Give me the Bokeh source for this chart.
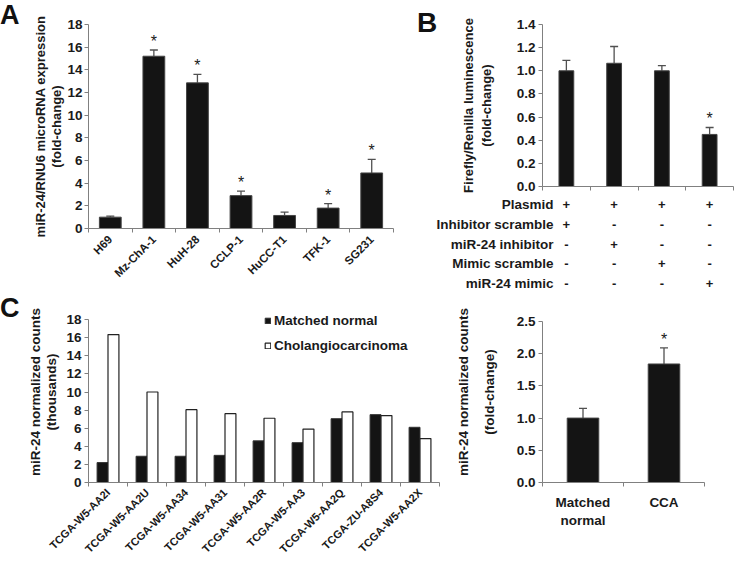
import math
from bokeh.plotting import figure
from bokeh.layouts import row, column
from bokeh.models import (Range1d, FactorRange, FixedTicker, Whisker, TeeHead, Div,
                          ColumnDataSource, Legend, LegendItem, NumeralTickFormatter)
from bokeh.transform import dodge
from bokeh.embed import file_html
from bokeh.resources import INLINE
from bokeh.core.properties import value

FONT = "Liberation Sans"
BAR = "#141414"
AXIS = "#808080"
ERR = "#505050"
TXT = "#1a1a1a"

# ---------------- data ----------------
# Panel A
a_lines = ["H69", "Mz-ChA-1", "HuH-28", "CCLP-1", "HuCC-T1", "TFK-1", "SG231"]
a_vals = [1.0, 15.2, 12.85, 2.9, 1.15, 1.8, 4.9]
a_err = [0.1, 0.55, 0.75, 0.4, 0.3, 0.4, 1.2]
a_sig = [False, True, True, True, False, True, True]
a_yticks = [0, 2, 4, 6, 8, 10, 12, 14, 16, 18]

# Panel B
b_vals = [1.0, 1.065, 1.0, 0.45]
b_err = [0.09, 0.145, 0.045, 0.06]
b_sig = [False, False, False, True]
b_yticks = [0.0, 0.2, 0.4, 0.6, 0.8, 1.0, 1.2, 1.4]
b_rows = ["Plasmid", "Inhibitor scramble", "miR-24 inhibitor", "Mimic scramble", "miR-24 mimic"]
b_table = [["+", "+", "+", "+"],
           ["+", "-", "-", "-"],
           ["-", "+", "-", "-"],
           ["-", "-", "+", "-"],
           ["-", "-", "-", "+"]]

# Panel C (left)
c_samples = ["TCGA-W5-AA2I", "TCGA-W5-AA2U", "TCGA-W5-AA34", "TCGA-W5-AA31", "TCGA-W5-AA2R",
             "TCGA-W5-AA3", "TCGA-W5-AA2Q", "TCGA-ZU-A8S4", "TCGA-W5-AA2X"]
c_normal = [2.2, 2.9, 2.9, 3.0, 4.6, 4.4, 7.05, 7.5, 6.1]
c_tumor = [16.35, 10.0, 8.05, 7.6, 7.1, 5.9, 7.8, 7.4, 4.85]
c_yticks = [0, 2, 4, 6, 8, 10, 12, 14, 16, 18]
c_series = ["Matched normal", "Cholangiocarcinoma"]

# Panel C (right)
d_groups = ["Matched\nnormal", "CCA"]
d_vals = [1.0, 1.84]
d_err = [0.15, 0.25]
d_sig = [False, True]
d_yticks = [0.0, 0.5, 1.0, 1.5, 2.0, 2.5]


def bar_fig(fw, fh, borders, n, yrange, ybounds, yticks, yfmt, ylabel, ylstand,
            labelled=True, ylsize="13.5px", ylh=1.2, tstand=3):
    l, r, t, b = borders
    p = figure(frame_width=fw, frame_height=fh, title=None,
               x_range=Range1d(-0.5, n - 0.5), y_range=Range1d(*yrange),
               output_backend="svg", toolbar_location=None,
               min_border_left=l, min_border_right=r, min_border_top=t, min_border_bottom=b)
    p.xgrid.visible = False
    p.ygrid.visible = False
    p.outline_line_color = None
    yax = p.yaxis[0]
    yax.ticker = FixedTicker(ticks=yticks)
    yax.bounds = ybounds
    if yfmt:
        yax.formatter = NumeralTickFormatter(format=yfmt)
    yax.axis_line_color = AXIS
    yax.major_tick_line_color = AXIS
    yax.major_tick_out = 4
    yax.major_tick_in = 0
    yax.minor_tick_line_color = None
    yax.major_label_text_font = FONT
    yax.major_label_text_font_style = "bold"
    yax.major_label_text_font_size = "13.5px"
    yax.major_label_text_color = TXT
    yax.major_label_standoff = tstand
    yax.axis_label = ylabel
    yax.axis_label_text_font = FONT
    yax.axis_label_text_font_style = "bold"
    yax.axis_label_text_font_size = ylsize
    yax.axis_label_text_color = TXT
    yax.axis_label_standoff = ylstand
    yax.axis_label_text_line_height = ylh
    xax = p.xaxis[0]
    xax.axis_label = None
    major = list(range(n)) if labelled else []
    xax.ticker = FixedTicker(ticks=major, minor_ticks=[i - 0.5 for i in range(n + 1)])
    xax.axis_line_color = AXIS
    xax.major_tick_line_color = None
    xax.minor_tick_line_color = AXIS
    xax.minor_tick_out = 4
    xax.minor_tick_in = 0
    xax.major_label_text_font = FONT
    xax.major_label_text_font_style = "bold"
    xax.major_label_text_color = TXT
    return p


def add_errors(p, xs, vals, errs, sig, size="16px"):
    ups = [v + e for v, e in zip(vals, errs)]
    src = ColumnDataSource(dict(x=xs, lower=vals, upper=ups))
    p.add_layout(Whisker(base="x", lower="lower", upper="upper", source=src, line_color=ERR,
                         line_width=1.3, lower_head=None,
                         upper_head=TeeHead(size=8, line_color=ERR, line_width=1.3)))
    sx = [x for x, s in zip(xs, sig) if s]
    sy = [u for u, s in zip(ups, sig) if s]
    p.text(x=sx, y=sy, text=["*"] * len(sx), text_font=value(FONT), text_font_size=size,
           text_align="center", text_baseline="bottom", text_color=TXT)


def letter_div(txt, w, h, left, top, size=28):
    html = ('<div style="font-family:\'Liberation Sans\',Arial,sans-serif;font-weight:bold;'
            'font-size:%dpx;line-height:1.15;color:#111111;padding-left:%dpx;padding-top:%dpx;">%s</div>'
            % (size, left, top, txt))
    return Div(text=html, width=w, height=h, margin=(0, 0, 0, 0))


# ---------------- Panel A ----------------
na = len(a_lines)
LA = letter_div("A", 20, 293, 0, 0, 27)
pA = bar_fig(305, 204, (68, 7, 24, 65), na, (0, 18), (0, 18), a_yticks, None,
             "miR-24/RNU6 microRNA expression\n(fold-change)", 0,
             ylsize="13px", ylh=1.1, tstand=2)
pA.vbar(x=list(range(na)), top=a_vals, width=0.5, fill_color=BAR, line_color="#444444")
add_errors(pA, list(range(na)), a_vals, a_err, a_sig)
pA.xaxis[0].major_label_overrides = {i: s for i, s in enumerate(a_lines)}
pA.xaxis[0].major_label_orientation = math.pi / 4
pA.xaxis[0].major_label_text_font_size = "11.5px"
pA.xaxis[0].major_label_standoff = 3

# ---------------- Panel B ----------------
nb = len(b_vals)
LB = letter_div("B", 40, 194, 17, 7)
pB = bar_fig(191, 162, (102, 1, 24, 8), nb, (0, 1.4), (0, 1.4), b_yticks, "0.0",
             "Firefly/Renilla luminescence\n(fold-change)", 20, labelled=False, ylsize="13px")
pB.vbar(x=list(range(nb)), top=b_vals, width=0.31, fill_color=BAR, line_color="#444444")
add_errors(pB, list(range(nb)), b_vals, b_err, b_sig)

pT = figure(frame_width=191, frame_height=99, title=None, x_range=pB.x_range,
            y_range=FactorRange(factors=list(reversed(b_rows))),
            output_backend="svg", toolbar_location=None, x_axis_location=None,
            min_border_left=142, min_border_right=1, min_border_top=0, min_border_bottom=0)
pT.outline_line_color = None
pT.grid.visible = False
tax = pT.yaxis[0]
tax.axis_line_color = None
tax.major_tick_line_color = None
tax.minor_tick_line_color = None
tax.major_label_text_font = FONT
tax.major_label_text_font_style = "bold"
tax.major_label_text_font_size = "13.5px"
tax.major_label_text_color = TXT
tax.major_label_standoff = -17
tx, ty, tt = [], [], []
for ri, rname in enumerate(b_rows):
    for ci in range(nb):
        tx.append(ci)
        ty.append(rname)
        tt.append(b_table[ri][ci])
pT.text(x=tx, y=ty, text=tt, text_font=value(FONT), text_font_style="bold",
        text_font_size="13px", text_align="center", text_baseline="middle", text_color=TXT)

# ---------------- Panel C left ----------------
nc = len(c_samples)
LC = letter_div("C", 20, 267, 0, 0, 27)
pC = bar_fig(351, 181, (68, 3, 8, 78), nc, (0, 20), (0, 18), c_yticks, None,
             "miR-24 normalized counts\n(thousands)", 4, ylh=1.1)
srcC = ColumnDataSource(dict(x=list(range(nc)), normal=c_normal, tumor=c_tumor))
r1 = pC.vbar(x=dodge("x", -0.14), top="normal", width=0.28, source=srcC,
             fill_color=BAR, line_color="#333333")
r2 = pC.vbar(x=dodge("x", 0.14), top="tumor", width=0.28, source=srcC,
             fill_color="white", line_color="#222222", line_width=1.2)
pC.xaxis[0].major_label_overrides = {i: s for i, s in enumerate(c_samples)}
pC.xaxis[0].major_label_orientation = math.pi / 4
pC.xaxis[0].major_label_text_font_size = "11px"
pC.xaxis[0].major_label_standoff = 2
leg = Legend(items=[LegendItem(label=c_series[0], renderers=[r1]),
                    LegendItem(label=c_series[1], renderers=[r2])],
             location=(176, 129), glyph_width=7, glyph_height=7, label_standoff=3,
             spacing=10, padding=0, margin=0, label_height=14,
             label_text_font=FONT, label_text_font_style="bold", label_text_font_size="13.5px",
             label_text_color=TXT, border_line_alpha=0, background_fill_alpha=0)
pC.add_layout(leg)

# ---------------- Panel C right ----------------
nd = len(d_groups)
pD = bar_fig(162, 181, (100, 30, 8, 78), nd, (0, 2.81), (0, 2.5), d_yticks, "0.0",
             "miR-24 normalized counts\n(fold-change)", 17, ylh=1.7)
pD.vbar(x=list(range(nd)), top=d_vals, width=0.39, fill_color=BAR, line_color="#444444")
add_errors(pD, list(range(nd)), d_vals, d_err, d_sig)
pD.xaxis[0].major_label_overrides = {i: s for i, s in enumerate(d_groups)}
pD.xaxis[0].major_label_text_font_size = "13.5px"
pD.xaxis[0].major_label_standoff = 6

layout = column(row(LA, pA, column(row(LB, pB), pT)), row(LC, pC, pD))
open("out.html", "w").write(file_html(layout, INLINE))
